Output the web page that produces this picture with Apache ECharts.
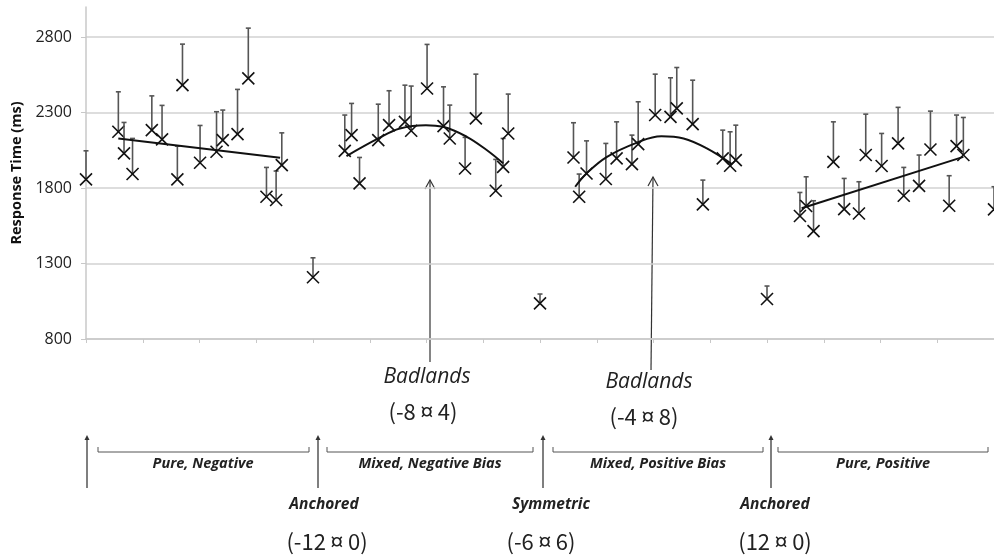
<!DOCTYPE html>
<html>
<head>
<meta charset="utf-8">
<script src="https://cdn.jsdelivr.net/npm/echarts@6/dist/echarts.min.js"></script>
<style>
  html, body { margin: 0; padding: 0; background: #fff; }
  #chart { width: 994px; height: 558px; }
</style>
</head>
<body>
<div id="chart"></div>
<script>
// x = position along the condition scale (one tick = 1), y = response time (ms), top = upper error bar
var anchorX   = [0, 4, 8, 12, 16];
var anchorY   = [1858, 1209, 1036, 1065, 1659];
var anchorTop = [2047, 1338, 1098, 1151, 1809];

var pureNegX   = [0.57, 0.67, 0.82, 1.16, 1.34, 1.61, 1.70, 2.01, 2.30, 2.41, 2.67, 2.86, 3.18, 3.35, 3.45];
var pureNegY   = [2173, 2030, 1893, 2184, 2123, 1858, 2482, 1968, 2041, 2118, 2158, 2527, 1743, 1721, 1952];
var pureNegTop = [2438, 2235, 2129, 2411, 2348, 2078, 2754, 2215, 2306, 2317, 2454, 2860, 1937, 1913, 2166];

var mixNegX   = [4.56, 4.68, 4.82, 5.15, 5.34, 5.62, 5.73, 6.01, 6.30, 6.41, 6.68, 6.87, 7.22, 7.35, 7.44];
var mixNegY   = [2047, 2151, 1831, 2118, 2217, 2239, 2180, 2460, 2211, 2129, 1930, 2262, 1782, 1941, 2162];
var mixNegTop = [2284, 2361, 2003, 2356, 2445, 2482, 2476, 2752, 2471, 2350, 2136, 2555, 1990, 2129, 2423];

var mixPosX   = [8.59, 8.69, 8.82, 9.16, 9.35, 9.62, 9.73, 10.03, 10.30, 10.41, 10.69, 10.87, 11.22, 11.35, 11.45];
var mixPosY   = [2003, 1743, 1897, 1860, 1997, 1959, 2091, 2284, 2272, 2328, 2224, 1692, 1997, 1948, 1985];
var mixPosTop = [2233, 1893, 2113, 2096, 2239, 2151, 2372, 2555, 2531, 2599, 2515, 1853, 2184, 2173, 2217];

var purePosX   = [12.58, 12.69, 12.82, 13.17, 13.36, 13.62, 13.74, 14.02, 14.31, 14.41, 14.68, 14.88, 15.21, 15.34, 15.46];
var purePosY   = [1615, 1681, 1515, 1974, 1661, 1632, 2019, 1946, 2096, 1749, 1815, 2056, 1683, 2078, 2019];
var purePosTop = [1771, 1875, 1716, 2239, 1864, 1842, 2290, 2162, 2335, 1937, 2019, 2310, 1882, 2284, 2268];

// trend lines
var trendPureNeg = [[0.57, 2129], [3.42, 2001]];
var trendMixNeg = [[4.59, 2012], [5.15, 2129], [5.53, 2195], [5.99, 2217], [6.29, 2206], [6.71, 2140], [7.06, 2052], [7.35, 1964]];
var trendMixPos = [[8.62, 1809], [8.82, 1897], [9.18, 2007], [9.70, 2100], [10.14, 2144], [10.53, 2129], [10.94, 2063], [11.38, 1959]];
var trendPurePos = [[12.61, 1666], [15.46, 2007]];

var yTicks = [800, 1300, 1800, 2300, 2800];

function pts(xs, ys, tops) {
  var out = [];
  for (var i = 0; i < xs.length; i++) out.push([xs[i], ys[i], tops[i]]);
  return out;
}

function renderPoint(params, api) {
  var p = api.coord([api.value(0), api.value(1)]);
  var t = api.coord([api.value(0), api.value(2)]);
  var s = 6;
  var bar = { stroke: '#555', lineWidth: 1.6 };
  var mk = { stroke: '#111', lineWidth: 1.6 };
  return {
    type: 'group',
    children: [
      { type: 'line', shape: { x1: p[0], y1: p[1], x2: t[0], y2: t[1] }, style: bar },
      { type: 'line', shape: { x1: t[0] - 2.5, y1: t[1], x2: t[0] + 2.5, y2: t[1] }, style: bar },
      { type: 'line', shape: { x1: p[0] - s, y1: p[1] - s, x2: p[0] + s, y2: p[1] + s }, style: mk },
      { type: 'line', shape: { x1: p[0] - s, y1: p[1] + s, x2: p[0] + s, y2: p[1] - s }, style: mk }
    ]
  };
}

function pointSeries(data) {
  return { type: 'custom', renderItem: renderPoint, data: data, encode: { x: 0, y: 1 }, z: 3, clip: false };
}

function trendSeries(data, smooth) {
  return { type: 'line', data: data, smooth: smooth, symbol: 'none', z: 4,
           lineStyle: { color: '#111', width: 2 } };
}

var textCol = '#222';
function txt(x, y, s, size, italic, weight, family) {
  return { type: 'text', x: x, y: y, style: {
    text: s, fontFamily: family || 'Open Sans', fontSize: size, fontStyle: italic ? 'italic' : 'normal',
    fontWeight: weight || 'normal', fill: textCol, align: 'center', verticalAlign: 'middle' } };
}
function ln(pts, w, c) {
  return { type: 'polyline', shape: { points: pts }, style: { stroke: c || '#444', lineWidth: w || 1, fill: null } };
}
function upArrow(x, y1, y2) {
  return [
    ln([[x, y1], [x, y2 + 3]], 1.5, '#555'),
    { type: 'polygon', shape: { points: [[x - 2.5, y2 + 5], [x, y2], [x + 2.5, y2 + 5]] }, style: { fill: '#333' } }
  ];
}
function bracket(x1, x2) {
  return ln([[x1, 447], [x1, 452], [x2, 452], [x2, 447]], 1, '#555');
}

var cjk = 'Noto Sans CJK SC';
var graphics = [
  ln([[430, 362], [430, 180]], 1.2, '#333'),
  ln([[425, 189], [430, 180], [435, 189]], 1.2, '#333'),
  ln([[651, 370], [653, 177]], 1.2, '#333'),
  ln([[648, 186], [653, 177], [658, 186]], 1.2, '#333'),
  txt(427, 377, 'Badlands', 21, true),
  txt(423, 412, '(-8 ¤ 4)', 22, false, 'normal', cjk),
  txt(649, 382, 'Badlands', 21, true),
  txt(644, 417, '(-4 ¤ 8)', 22, false, 'normal', cjk),
  bracket(98, 309), bracket(327, 533), bracket(553, 763), bracket(778, 988),
  txt(203, 464, 'Pure, Negative', 14.5, true, 'bold'),
  txt(430, 464, 'Mixed, Negative Bias', 14.5, true, 'bold'),
  txt(658, 464, 'Mixed, Positive Bias', 14.5, true, 'bold'),
  txt(883, 464, 'Pure, Positive', 14.5, true, 'bold'),
  txt(324, 505, 'Anchored', 15.5, true, 'bold'),
  txt(551, 505, 'Symmetric', 15.5, true, 'bold'),
  txt(775, 505, 'Anchored', 15.5, true, 'bold'),
  txt(327, 542, '(-12 ¤ 0)', 22, false, 'normal', cjk),
  txt(541, 542, '(-6 ¤ 6)', 22, false, 'normal', cjk),
  txt(775, 542, '(12 ¤ 0)', 22, false, 'normal', cjk)
].concat(upArrow(87, 488, 435), upArrow(318, 488, 435), upArrow(543, 488, 435), upArrow(771, 488, 435));

var myChart = echarts.init(document.getElementById('chart'));
myChart.setOption({
  animation: false,
  grid: { left: 86, right: 0, top: 7, bottom: 219, containLabel: false },
  xAxis: {
    type: 'value', min: 0, max: 16, interval: 1,
    axisLine: { lineStyle: { color: '#c8c8c8', width: 1.5 } },
    axisTick: { show: true, length: 4, lineStyle: { color: '#c8c8c8' } },
    axisLabel: { show: false },
    splitLine: { show: false }
  },
  yAxis: {
    type: 'value', min: yTicks[0], max: 3000, interval: 500,
    name: 'Response Time (ms)', nameLocation: 'middle', nameGap: 62,
    nameTextStyle: { fontFamily: 'Open Sans', fontSize: 14.5, fontWeight: 'bold', color: '#111' },
    axisLine: { show: true, lineStyle: { color: '#c8c8c8', width: 1.5 } },
    axisTick: { show: true, length: 5, lineStyle: { color: '#c8c8c8' } },
    axisLabel: { showMaxLabel: false, margin: 14, fontFamily: 'Open Sans', fontSize: 16, color: '#222',
                 formatter: function (v) { return String(v); } },
    splitLine: { show: true, showMaxLine: false, lineStyle: { color: '#d2d2d2', width: 1.5 } }
  },
  graphic: graphics,
  series: [
    pointSeries(pts(anchorX, anchorY, anchorTop)),
    pointSeries(pts(pureNegX, pureNegY, pureNegTop)),
    pointSeries(pts(mixNegX, mixNegY, mixNegTop)),
    pointSeries(pts(mixPosX, mixPosY, mixPosTop)),
    pointSeries(pts(purePosX, purePosY, purePosTop)),
    trendSeries(trendPureNeg, false),
    trendSeries(trendMixNeg, 0.4),
    trendSeries(trendMixPos, 0.4),
    trendSeries(trendPurePos, false)
  ]
});
</script>
</body>
</html>
